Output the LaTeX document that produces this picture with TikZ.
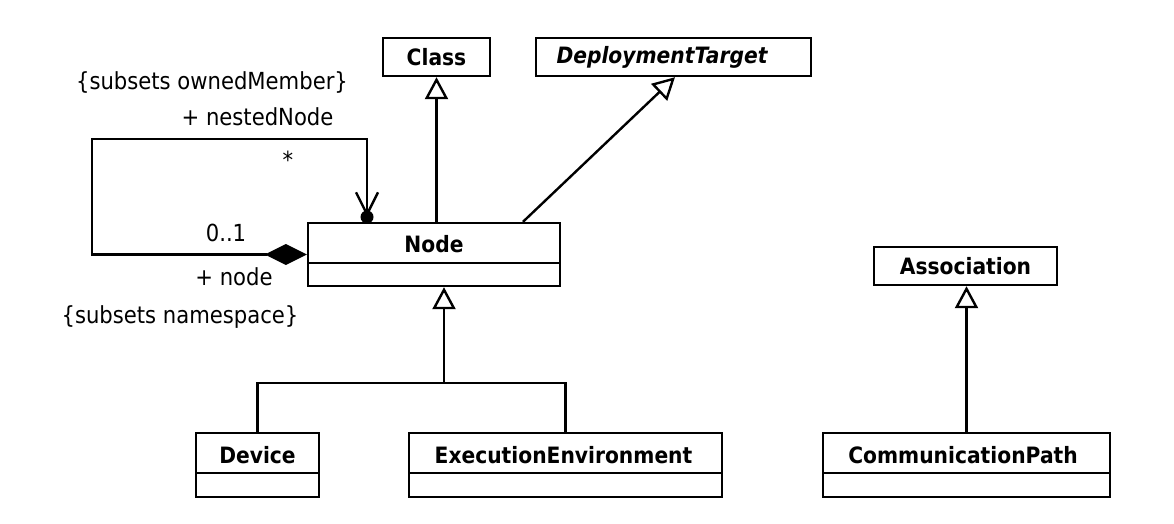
\documentclass[tikz,border=0pt]{standalone}
\usepackage{fontspec}
\setmainfont{DejaVu Sans}[FakeStretch=0.9]
\usetikzlibrary{arrows.meta}
\tikzset{
  classbox/.style={draw, line width=2.4pt, inner sep=0pt, fill=white},
  lbl/.style={font=\fontsize{23.5}{27}\selectfont, inner sep=0pt},
  cname/.style={font=\bfseries\fontsize{22.5}{26}\selectfont},
  conn/.style={line width=2.4pt},
  gen/.style={conn, -{Triangle[open, fill=white, length=22pt, width=23pt, line width=2.4pt]}},
  sepline/.style={line width=2.4pt}
}
\begin{document}
\begin{tikzpicture}[x=1pt, y=-1pt]
\useasboundingbox (0,0) rectangle (1174,524);
% top boxes
\node[classbox, cname, minimum width=107pt, minimum height=38pt] (class) at (436.5,57) {Class};
\node[classbox, minimum width=275pt, minimum height=38pt] (dt) at (673.5,57) {};
\node[cname, font=\bfseries\itshape\fontsize{22.5}{26}\selectfont] (dtt) at (662,57) {DeploymentTarget};
\node[classbox, cname, minimum width=183pt, minimum height=38pt] (assoc) at (965.5,266) {Association};
% Node
\node[classbox, minimum width=252pt, minimum height=63pt] (node) at (434,254.5) {};
\node[cname] (nodet) at (434,244) {Node};
\draw[sepline] (308,263) -- (560,263);
% Device
\node[classbox, minimum width=123pt, minimum height=64pt] (dev) at (257.5,465) {};
\node[cname] (devt) at (257.5,455) {Device};
\draw[sepline] (196,473) -- (319,473);
% ExecutionEnvironment
\node[classbox, minimum width=313pt, minimum height=64pt] (ee) at (565.5,465) {};
\node[cname] (eet) at (563.5,455) {ExecutionEnvironment};
\draw[sepline] (409,473) -- (722,473);
% CommunicationPath
\node[classbox, minimum width=287pt, minimum height=64pt] (cp) at (966.5,465) {};
\node[cname] (cpt) at (963,455) {CommunicationPath};
\draw[sepline] (823,473) -- (1110,473);
% generalizations
\draw[gen] (node.north -| class.south) -- (class.south);
\draw[gen] ([xshift=89pt]node.north) -- ([xshift=1.5pt]dt.south);
\coordinate (j) at (444,383);
\draw[conn] (dev.north) |- (j) -| (ee.north);
\draw[gen] (j) -- (j |- node.south);
\draw[gen] (cp.north) -- (cp.north |- assoc.south);
% self association
\coordinate (l1) at (92,254.5);
\coordinate (l2) at (92,139);
\coordinate (l3) at (367,139);
\coordinate (l4) at (367,217);
\draw[conn, {Diamond[length=42pt, width=21pt]}-{Straight Barb[length=22pt, width=22pt, line width=2.4pt]}] (node.west) -- (l1) -- (l2) -- (l3) -- (l4);
\fill (l4) circle (6.5);
% labels
\node[lbl] (a1) at (212,82) {\{subsets ownedMember\}};
\node[lbl] (a2) at (257.5,117) {+ nestedNode};
\node[lbl] (a3) at (288,160) {*};
\node[lbl] (a4) at (226,233) {0..1};
\node[lbl] (a5) at (234,277) {+ node};
\node[lbl] (a6) at (180,317) {\{subsets namespace\}};
\end{tikzpicture}
\end{document}
